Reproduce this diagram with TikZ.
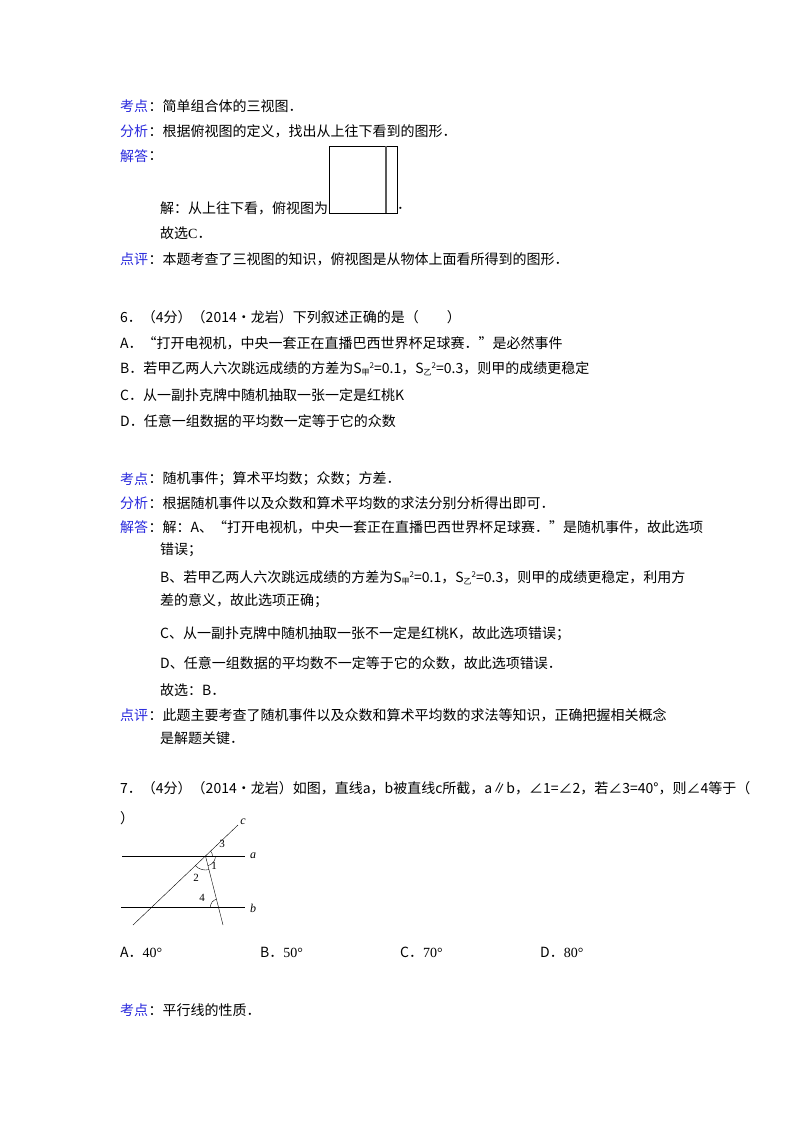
\documentclass[tikz,border=0pt]{standalone}
\usepackage{fontspec}
\setmainfont{Noto Sans CJK SC}
\newfontfamily\lat{Liberation Serif}
\definecolor{kb}{RGB}{40,40,220}
\begin{document}
\begin{tikzpicture}[x=1pt,y=-1pt,
  t/.style={anchor=west,inner sep=0pt,font=\fontsize{14}{16}\selectfont},
  k/.style={t,text=kb},
  lbl/.style={inner sep=0pt,font=\lat\itshape\fontsize{12}{14}\selectfont},
  num/.style={inner sep=0pt,font=\lat\fontsize{11}{13}\selectfont}]
\useasboundingbox (0,0) rectangle (800,1132);
\def\S#1{S\raisebox{-0.3ex}{\fontsize{8}{9}\selectfont #1}\raisebox{0.7ex}{\fontsize{8}{9}\selectfont 2}}
\node[k] (k1) at (120,106) {考点};
\node[t] (k1t) at (k1.east) {：简单组合体的三视图．};
\node[k] (f1) at (120,131) {分析};
\node[t] (f1t) at (f1.east) {：根据俯视图的定义，找出从上往下看到的图形．};
\node[k] (j1) at (120,156) {解答};
\node[t] (j1t) at (j1.east) {：};
\node[t] (j1a) at (160,208) {解：从上往下看，俯视图为};
\draw (329,146) rectangle (397,213);
\draw[line width=1.6pt,gray!70!black] (386,146) -- (386,213);
\node[t] (dot) at (397,208) {．};
\node[t] (j1b) at (160,233) {故选{\lat C}．};
\node[k] (d1) at (120,259) {点评};
\node[t] (d1t) at (d1.east) {：本题考查了三视图的知识，俯视图是从物体上面看所得到的图形．};

\node[t] (q6) at (120,317) {6．（4分）（2014•龙岩）下列叙述正确的是（　　）};
\node[t] (q6a) at (120,343) {A．“打开电视机，中央一套正在直播巴西世界杯足球赛．”是必然事件};
\node[t] (q6b) at (120,369) {B．若甲乙两人六次跳远成绩的方差为\S{甲}=0.1，\S{乙}=0.3，则甲的成绩更稳定};
\node[t] (q6c) at (120,395) {C．从一副扑克牌中随机抽取一张一定是红桃K};
\node[t] (q6d) at (120,421) {D．任意一组数据的平均数一定等于它的众数};

\node[k] (k2) at (120,479) {考点};
\node[t] (k2t) at (k2.east) {：随机事件；算术平均数；众数；方差．};
\node[k] (f2) at (120,503) {分析};
\node[t] (f2t) at (f2.east) {：根据随机事件以及众数和算术平均数的求法分别分析得出即可．};
\node[k] (j2) at (120,527) {解答};
\node[t] (j2t) at (j2.east) {：解：A、“打开电视机，中央一套正在直播巴西世界杯足球赛．”是随机事件，故此选项};
\node[t] (j2a) at (160,550) {错误；};
\node[t] (j2b) at (160,578) {B、若甲乙两人六次跳远成绩的方差为\S{甲}=0.1，\S{乙}=0.3，则甲的成绩更稳定，利用方};
\node[t] (j2c) at (160,601) {差的意义，故此选项正确；};
\node[t] (j2d) at (160,634) {C、从一副扑克牌中随机抽取一张不一定是红桃K，故此选项错误；};
\node[t] (j2e) at (160,663) {D、任意一组数据的平均数不一定等于它的众数，故此选项错误．};
\node[t] (j2f) at (160,690) {故选：B．};
\node[k] (d2) at (120,715) {点评};
\node[t] (d2t) at (d2.east) {：此题主要考查了随机事件以及众数和算术平均数的求法等知识，正确把握相关概念};
\node[t] (d2a) at (160,738) {是解题关键．};

\node[t] (q7) at (120,788) {7．（4分）（2014•龙岩）如图，直线a，b被直线c所截，a∥b，∠1=∠2，若∠3=40°，则∠4等于（};
\node[t] (q7b) at (120,818) {）};

% figure
\coordinate (a1) at (122,856); \coordinate (a2) at (245,856);
\coordinate (b1) at (121,907); \coordinate (b2) at (245,907);
\coordinate (c1) at (133,925); \coordinate (c2) at (238,825);
\coordinate (P) at (205.5,856); \coordinate (Q) at (223,925);
\coordinate (R) at (218.4,907);
\draw (a1) -- (a2); \draw (b1) -- (b2); \draw (c1) -- (c2);
\draw (P) -- (Q);
\node[lbl] (la) at (253,856) {a};
\node[lbl] (lb) at (253,908) {b};
\node[lbl] (lc) at (243,822) {c};
\draw ([shift={(5.07,-4.83)}]P) arc (-43.6:0:7);
\draw ([shift={(10,0)}]P) arc (0:76:10);
\draw ([shift={(3.4,13.6)}]P) arc (76:136:14);
\draw ([shift={(-8,0)}]R) arc (180:256:8);
\node[num] (n3) at (222,844) {3};
\node[num] (n1) at (214,866) {1};
\node[num] (n2) at (196,878) {2};
\node[num] (n4) at (202,898) {4};

\node[t] (oa) at (120,952) {A．{\lat 40°}};
\node[t] (ob) at (260,952) {B．{\lat 50°}};
\node[t] (oc) at (400,952) {C．{\lat 70°}};
\node[t] (od) at (540,952) {D．{\lat 80°}};
\node[k] (k3) at (120,1010) {考点};
\node[t] (k3t) at (k3.east) {：平行线的性质．};
\end{tikzpicture}
\end{document}
